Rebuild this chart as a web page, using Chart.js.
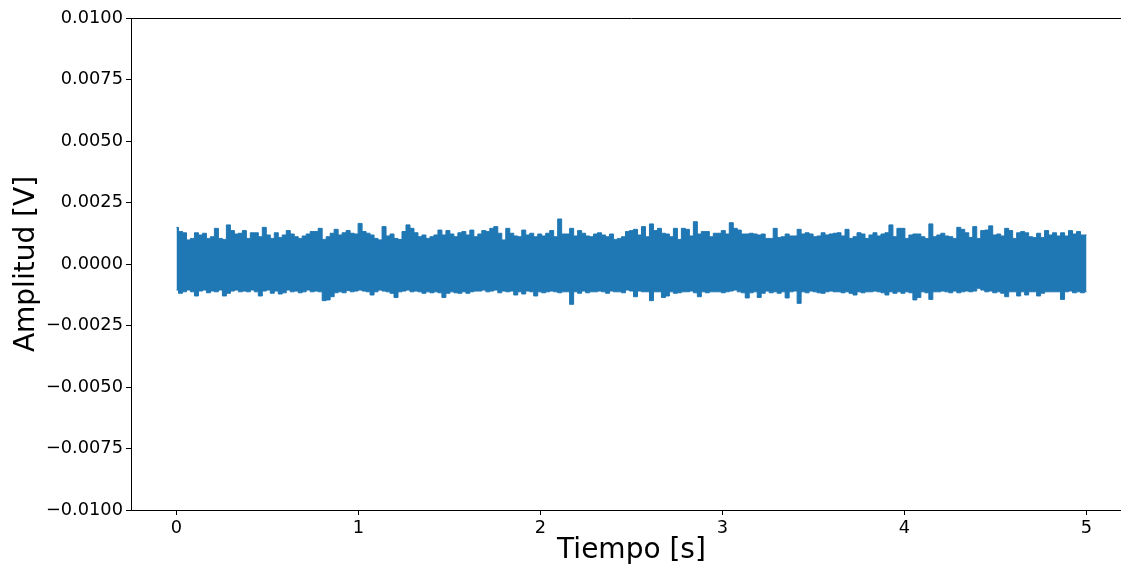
<!DOCTYPE html>
<html>
<head>
<meta charset="utf-8">
<script src="https://cdn.jsdelivr.net/npm/chart.js@4/dist/chart.umd.min.js"></script>
<style>
  html, body { margin: 0; padding: 0; background: #fff; overflow: hidden; }
  #wrap { width: 1121px; height: 568px; overflow: hidden; }
  canvas { display: block; }
</style>
</head>
<body>
<div id="wrap"><canvas id="c" width="1133" height="568"></canvas></div>
<script>
// Recorded noise trace, 0 to 5 s, reduced to one peak-high / peak-low pair per time bin (mV).
const upperMv = [
  1.49,1.32,1.27,0.98,1.04,1.27,1.18,1.25,1.04,1.11,1.45,1.04,1.00,1.59,1.36,1.22,1.25,1.36,1.04,1.27,
  1.27,1.11,1.49,1.18,1.04,1.27,1.08,1.18,1.36,1.22,1.11,1.04,1.14,1.22,1.32,1.32,1.45,1.00,1.11,
  1.25,1.41,1.18,1.27,1.36,1.25,1.22,1.65,1.32,1.25,1.18,1.04,0.98,1.52,1.14,1.22,1.04,1.00,1.32,1.59,
  1.45,1.27,1.11,1.18,1.04,1.11,1.18,1.38,1.18,1.36,1.22,1.11,1.27,1.32,1.18,1.38,1.11,1.22,
  1.36,1.32,1.45,1.52,1.25,0.98,1.45,1.25,1.14,1.11,1.38,1.18,1.25,1.11,1.22,1.14,1.25,1.36,1.11,1.83,
  1.22,1.22,1.45,1.14,1.36,1.25,1.14,1.11,1.22,1.27,1.18,1.11,1.22,1.00,1.04,1.11,1.32,1.36,1.41,
  1.18,1.52,1.11,1.63,1.36,1.45,1.25,1.22,1.11,1.45,1.00,1.45,1.41,1.14,1.72,1.22,1.32,1.32,1.11,1.25,
  1.25,1.36,1.22,1.68,1.45,1.38,1.22,1.22,1.25,1.22,1.18,1.22,1.04,1.04,1.45,1.08,1.11,1.22,1.14,
  1.14,1.41,1.22,1.27,1.22,1.11,1.14,1.27,1.18,1.22,1.25,1.27,1.14,1.41,1.04,1.11,1.27,1.22,1.04,1.18,
  1.27,1.14,1.22,1.27,1.59,1.11,1.45,1.45,1.04,1.18,1.22,1.22,1.11,1.04,1.63,1.11,1.18,1.25,1.14,
  1.11,1.04,1.49,1.41,1.27,1.08,1.52,1.04,1.36,1.38,1.55,1.18,1.22,1.14,1.45,1.36,1.04,1.27,1.32,1.27,
  1.11,1.08,1.25,1.08,1.36,1.18,1.27,1.14,1.27,1.14,1.36,1.22,1.32,1.18,1.18
];
const lowerMv = [
  -1.06,-1.19,-1.13,-1.06,-1.13,-1.30,-1.10,-1.06,-1.17,-1.10,-1.13,-1.06,-1.30,-1.19,-1.10,-1.06,-1.13,-1.10,-1.13,-1.06,
  -1.13,-1.30,-1.10,-1.06,-1.19,-1.10,-1.22,-1.17,-1.06,-1.13,-1.10,-1.17,-1.13,-1.06,-1.13,-1.10,-1.13,-1.49,-1.46,
  -1.33,-1.17,-1.13,-1.17,-1.08,-1.13,-1.10,-1.06,-1.10,-1.13,-1.26,-1.13,-1.06,-1.10,-1.13,-1.19,-1.36,-1.13,-1.10,-1.06,
  -1.13,-1.10,-1.13,-1.19,-1.13,-1.17,-1.13,-1.17,-1.36,-1.19,-1.13,-1.17,-1.19,-1.13,-1.19,-1.13,-1.10,-1.10,
  -1.06,-1.13,-1.10,-1.06,-1.17,-1.10,-1.13,-1.10,-1.26,-1.13,-1.22,-1.10,-1.13,-1.30,-1.13,-1.17,-1.13,-1.10,-1.13,-1.17,
  -1.13,-1.13,-1.64,-1.13,-1.19,-1.10,-1.17,-1.13,-1.13,-1.10,-1.13,-1.19,-1.10,-1.13,-1.13,-1.17,-1.06,-1.10,-1.33,
  -1.10,-1.13,-1.13,-1.49,-1.13,-1.13,-1.36,-1.30,-1.13,-1.19,-1.17,-1.13,-1.13,-1.10,-1.17,-1.33,-1.13,-1.17,-1.13,-1.13,
  -1.13,-1.17,-1.13,-1.10,-1.06,-1.13,-1.17,-1.38,-1.17,-1.13,-1.36,-1.19,-1.10,-1.17,-1.13,-1.19,-1.13,-1.38,-1.13,
  -1.10,-1.60,-1.13,-1.17,-1.10,-1.13,-1.17,-1.19,-1.13,-1.10,-1.13,-1.13,-1.17,-1.13,-1.19,-1.26,-1.13,-1.17,-1.13,-1.13,
  -1.10,-1.13,-1.17,-1.26,-1.13,-1.19,-1.13,-1.19,-1.13,-1.17,-1.46,-1.36,-1.13,-1.17,-1.44,-1.13,-1.13,-1.10,-1.13,
  -1.17,-1.10,-1.17,-1.13,-1.10,-1.13,-1.10,-0.99,-1.06,-1.13,-1.10,-1.17,-1.13,-1.19,-1.33,-1.13,-1.13,-1.30,-1.13,-1.26,
  -1.13,-1.13,-1.30,-1.19,-1.13,-1.13,-1.13,-1.13,-1.44,-1.13,-1.10,-1.17,-1.13,-1.17,-1.13
];
const tStart = 0, tEnd = 5;                       // seconds
const xTicks = [0, 1, 2, 3, 4, 5];
const yTicks = [-0.01, -0.0075, -0.005, -0.0025, 0, 0.0025, 0.005, 0.0075, 0.01];

const n = Math.min(upperMv.length, lowerMv.length);
const binTime = i => tStart + (tEnd - tStart) * i / (n - 1);
const upperPts = [], lowerPts = [];
for (let i = 0; i < n; i++) {
  upperPts.push({ x: binTime(i), y: upperMv[i] / 1000 });
  lowerPts.push({ x: binTime(i), y: lowerMv[i] / 1000 });
}

const blue = '#1f77b4';
const tickFont = { family: 'DejaVu Sans', size: 17.8 };
const titleFont = { family: 'DejaVu Sans', size: 28 };

// top/right frame lines (bottom and left come from the axis borders)
const frame = {
  id: 'frame',
  afterDraw(chart) {
    const { ctx, chartArea: a } = chart;
    ctx.save();
    ctx.strokeStyle = '#000';
    ctx.lineWidth = 1;
    ctx.beginPath();
    ctx.moveTo(a.left, a.top + 0.5);
    ctx.lineTo(a.right, a.top + 0.5);
    ctx.moveTo(a.right - 0.5, a.top);
    ctx.lineTo(a.right - 0.5, a.bottom);
    ctx.stroke();
    ctx.restore();
  }
};

const fmtY = v => {
  if (Math.abs(v) < 1e-12) return '0.0000';
  const s = Math.abs(v).toFixed(4);
  return v < 0 ? '\u2212' + s : s;
};

new Chart(document.getElementById('c'), {
  type: 'line',
  data: {
    datasets: [
      { data: lowerPts, borderColor: blue, borderWidth: 1, pointRadius: 0, stepped: 'middle', fill: false },
      { data: upperPts, borderColor: blue, backgroundColor: blue, borderWidth: 1, pointRadius: 0, stepped: 'middle', fill: '-1' }
    ]
  },
  options: {
    responsive: false,
    animation: false,
    events: [],
    layout: { padding: { top: 18, right: 1, left: 0, bottom: 0 } },
    plugins: { legend: { display: false }, tooltip: { enabled: false } },
    scales: {
      x: {
        type: 'linear',
        min: -0.25, max: 5.25,
        afterFit: s => { s.height = 58; },
        afterBuildTicks: s => { s.ticks = xTicks.map(v => ({ value: v })); },
        grid: { drawOnChartArea: false, drawTicks: true, tickLength: 5, color: '#000' },
        border: { display: true, color: '#000', width: 1 },
        ticks: { color: '#000', font: tickFont, padding: 3, maxRotation: 0, callback: v => String(v) },
        title: { display: true, text: 'Tiempo [s]', color: '#000', font: titleFont, padding: { top: 0, bottom: 0 } }
      },
      y: {
        type: 'linear',
        min: -0.01, max: 0.01,
        afterFit: s => { s.width = 131; },
        afterBuildTicks: s => { s.ticks = yTicks.map(v => ({ value: v })); },
        grid: { drawOnChartArea: false, drawTicks: true, tickLength: 5, color: '#000' },
        border: { display: true, color: '#000', width: 1 },
        ticks: { color: '#000', font: tickFont, padding: 3, callback: v => fmtY(v) },
        title: { display: true, text: 'Amplitud [V]', color: '#000', font: titleFont, padding: { top: 9.5, bottom: 0 } }
      }
    }
  },
  plugins: [frame]
});
</script>
</body>
</html>
